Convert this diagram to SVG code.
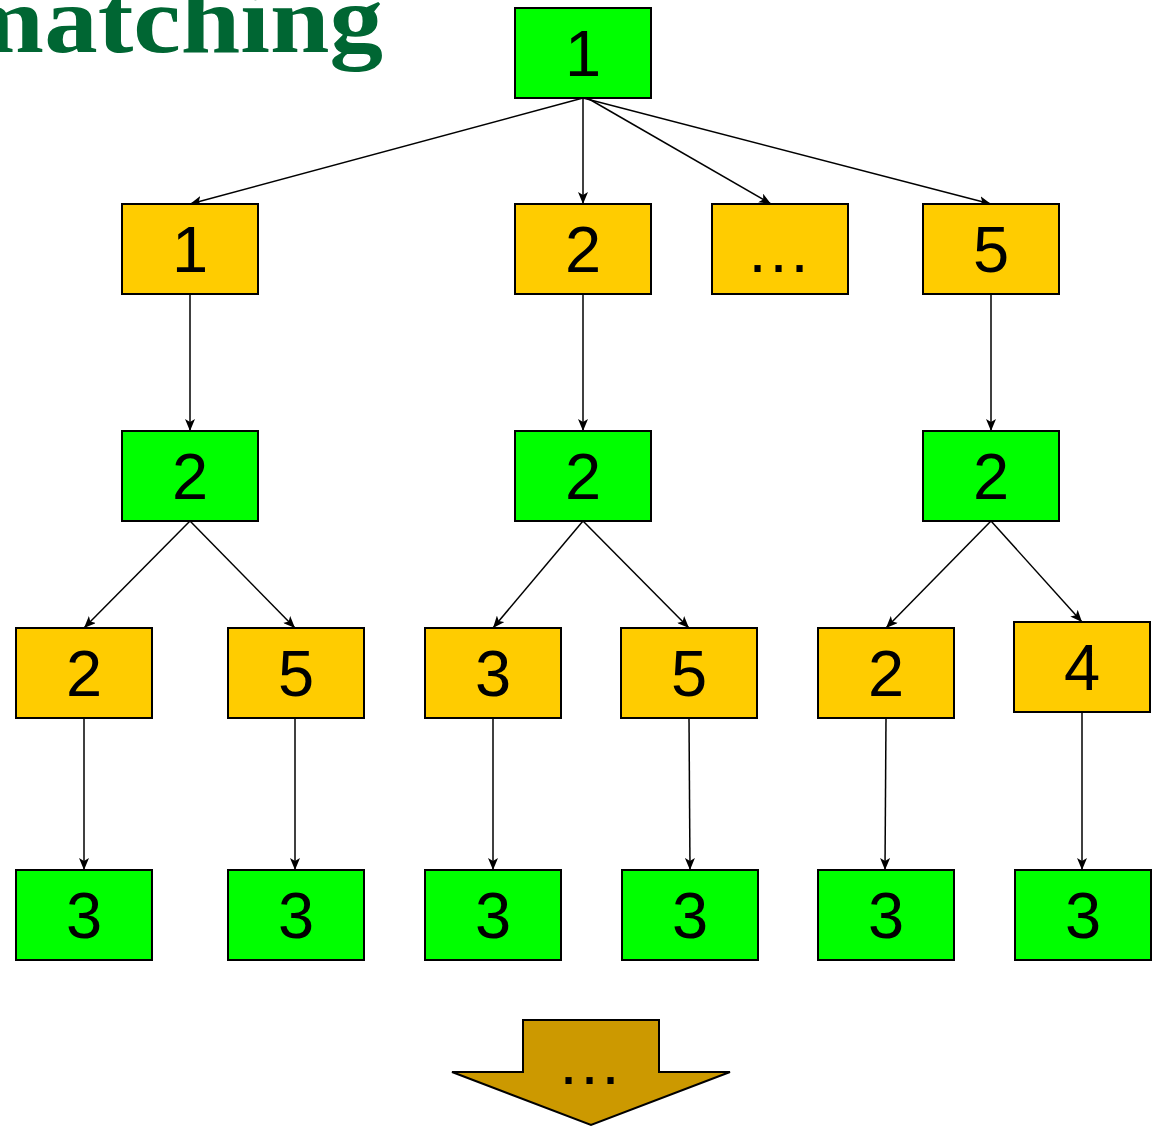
<svg xmlns="http://www.w3.org/2000/svg" width="1161" height="1127" viewBox="0 0 1161 1127">
<defs>
<style>
.g{fill:#00FF00;stroke:#000;stroke-width:2}
.y{fill:#FFCC00;stroke:#000;stroke-width:2}
.t{font-family:"Liberation Sans",Arial,sans-serif;font-size:65px;text-anchor:middle;fill:#000}
.c line{stroke:#000;stroke-width:1.5;marker-end:url(#ah)}
</style>
<marker id="ah" viewBox="0 0 12 10" refX="12" refY="5" markerWidth="12" markerHeight="10" markerUnits="userSpaceOnUse" orient="auto">
<path d="M0,0 L12,5 L0,10 L3,5 Z" fill="#000"/>
</marker>
</defs>
<rect width="1161" height="1127" fill="#fff"/>
<text x="-45" y="52" font-family="'Liberation Serif','Times New Roman',serif" font-weight="bold" font-size="95" fill="#006633" textLength="428" lengthAdjust="spacingAndGlyphs">matching</text>
<g class="c" id="connectors">
<line x1="583" y1="98" x2="190" y2="204"/>
<line x1="583" y1="98" x2="583" y2="204"/>
<line x1="589" y1="99" x2="771" y2="204"/>
<line x1="583" y1="98" x2="991" y2="204"/>
<line x1="190" y1="294" x2="190" y2="431"/>
<line x1="583" y1="294" x2="583" y2="431"/>
<line x1="991" y1="294" x2="991" y2="431"/>
<line x1="190" y1="521" x2="84" y2="628"/>
<line x1="190" y1="521" x2="295" y2="628"/>
<line x1="583" y1="521" x2="493" y2="628"/>
<line x1="583" y1="521" x2="689" y2="628"/>
<line x1="991" y1="521" x2="886" y2="628"/>
<line x1="991" y1="521" x2="1082" y2="622"/>
<line x1="84" y1="718" x2="84" y2="870"/>
<line x1="295" y1="718" x2="295" y2="870"/>
<line x1="493" y1="718" x2="493" y2="870"/>
<line x1="689" y1="718" x2="690" y2="870"/>
<line x1="886" y1="718" x2="885" y2="870"/>
<line x1="1082" y1="712" x2="1082" y2="870"/>
</g>
<g id="n0"><rect class="g" x="515" y="8" width="136" height="90"/><text class="t" x="583" y="76">1</text></g>
<g id="n1a"><rect class="y" x="122" y="204" width="136" height="90"/><text class="t" x="190" y="272">1</text></g>
<g id="n1b"><rect class="y" x="515" y="204" width="136" height="90"/><text class="t" x="583" y="272">2</text></g>
<g id="n1c"><rect class="y" x="712" y="204" width="136" height="90"/><text class="t" x="780" y="272" letter-spacing="3">...</text></g>
<g id="n1d"><rect class="y" x="923" y="204" width="136" height="90"/><text class="t" x="991" y="272">5</text></g>
<g id="n2a"><rect class="g" x="122" y="431" width="136" height="90"/><text class="t" x="190" y="499">2</text></g>
<g id="n2b"><rect class="g" x="515" y="431" width="136" height="90"/><text class="t" x="583" y="499">2</text></g>
<g id="n2c"><rect class="g" x="923" y="431" width="136" height="90"/><text class="t" x="991" y="499">2</text></g>
<g id="n3a"><rect class="y" x="16" y="628" width="136" height="90"/><text class="t" x="84" y="696">2</text></g>
<g id="n3b"><rect class="y" x="228" y="628" width="136" height="90"/><text class="t" x="296" y="696">5</text></g>
<g id="n3c"><rect class="y" x="425" y="628" width="136" height="90"/><text class="t" x="493" y="696">3</text></g>
<g id="n3d"><rect class="y" x="621" y="628" width="136" height="90"/><text class="t" x="689" y="696">5</text></g>
<g id="n3e"><rect class="y" x="818" y="628" width="136" height="90"/><text class="t" x="886" y="696">2</text></g>
<g id="n3f"><rect class="y" x="1014" y="622" width="136" height="90"/><text class="t" x="1082" y="690">4</text></g>
<g id="n4a"><rect class="g" x="16" y="870" width="136" height="90"/><text class="t" x="84" y="938">3</text></g>
<g id="n4b"><rect class="g" x="228" y="870" width="136" height="90"/><text class="t" x="296" y="938">3</text></g>
<g id="n4c"><rect class="g" x="425" y="870" width="136" height="90"/><text class="t" x="493" y="938">3</text></g>
<g id="n4d"><rect class="g" x="622" y="870" width="136" height="90"/><text class="t" x="690" y="938">3</text></g>
<g id="n4e"><rect class="g" x="818" y="870" width="136" height="90"/><text class="t" x="886" y="938">3</text></g>
<g id="n4f"><rect class="g" x="1015" y="870" width="136" height="90"/><text class="t" x="1083" y="938">3</text></g>
<g id="more"><polygon points="523,1020 659,1020 659,1072 730,1072 591,1125 452,1072 523,1072" fill="#CC9900" stroke="#000" stroke-width="2"/><text class="t" x="591" y="1084" letter-spacing="3">...</text></g>
</svg>
